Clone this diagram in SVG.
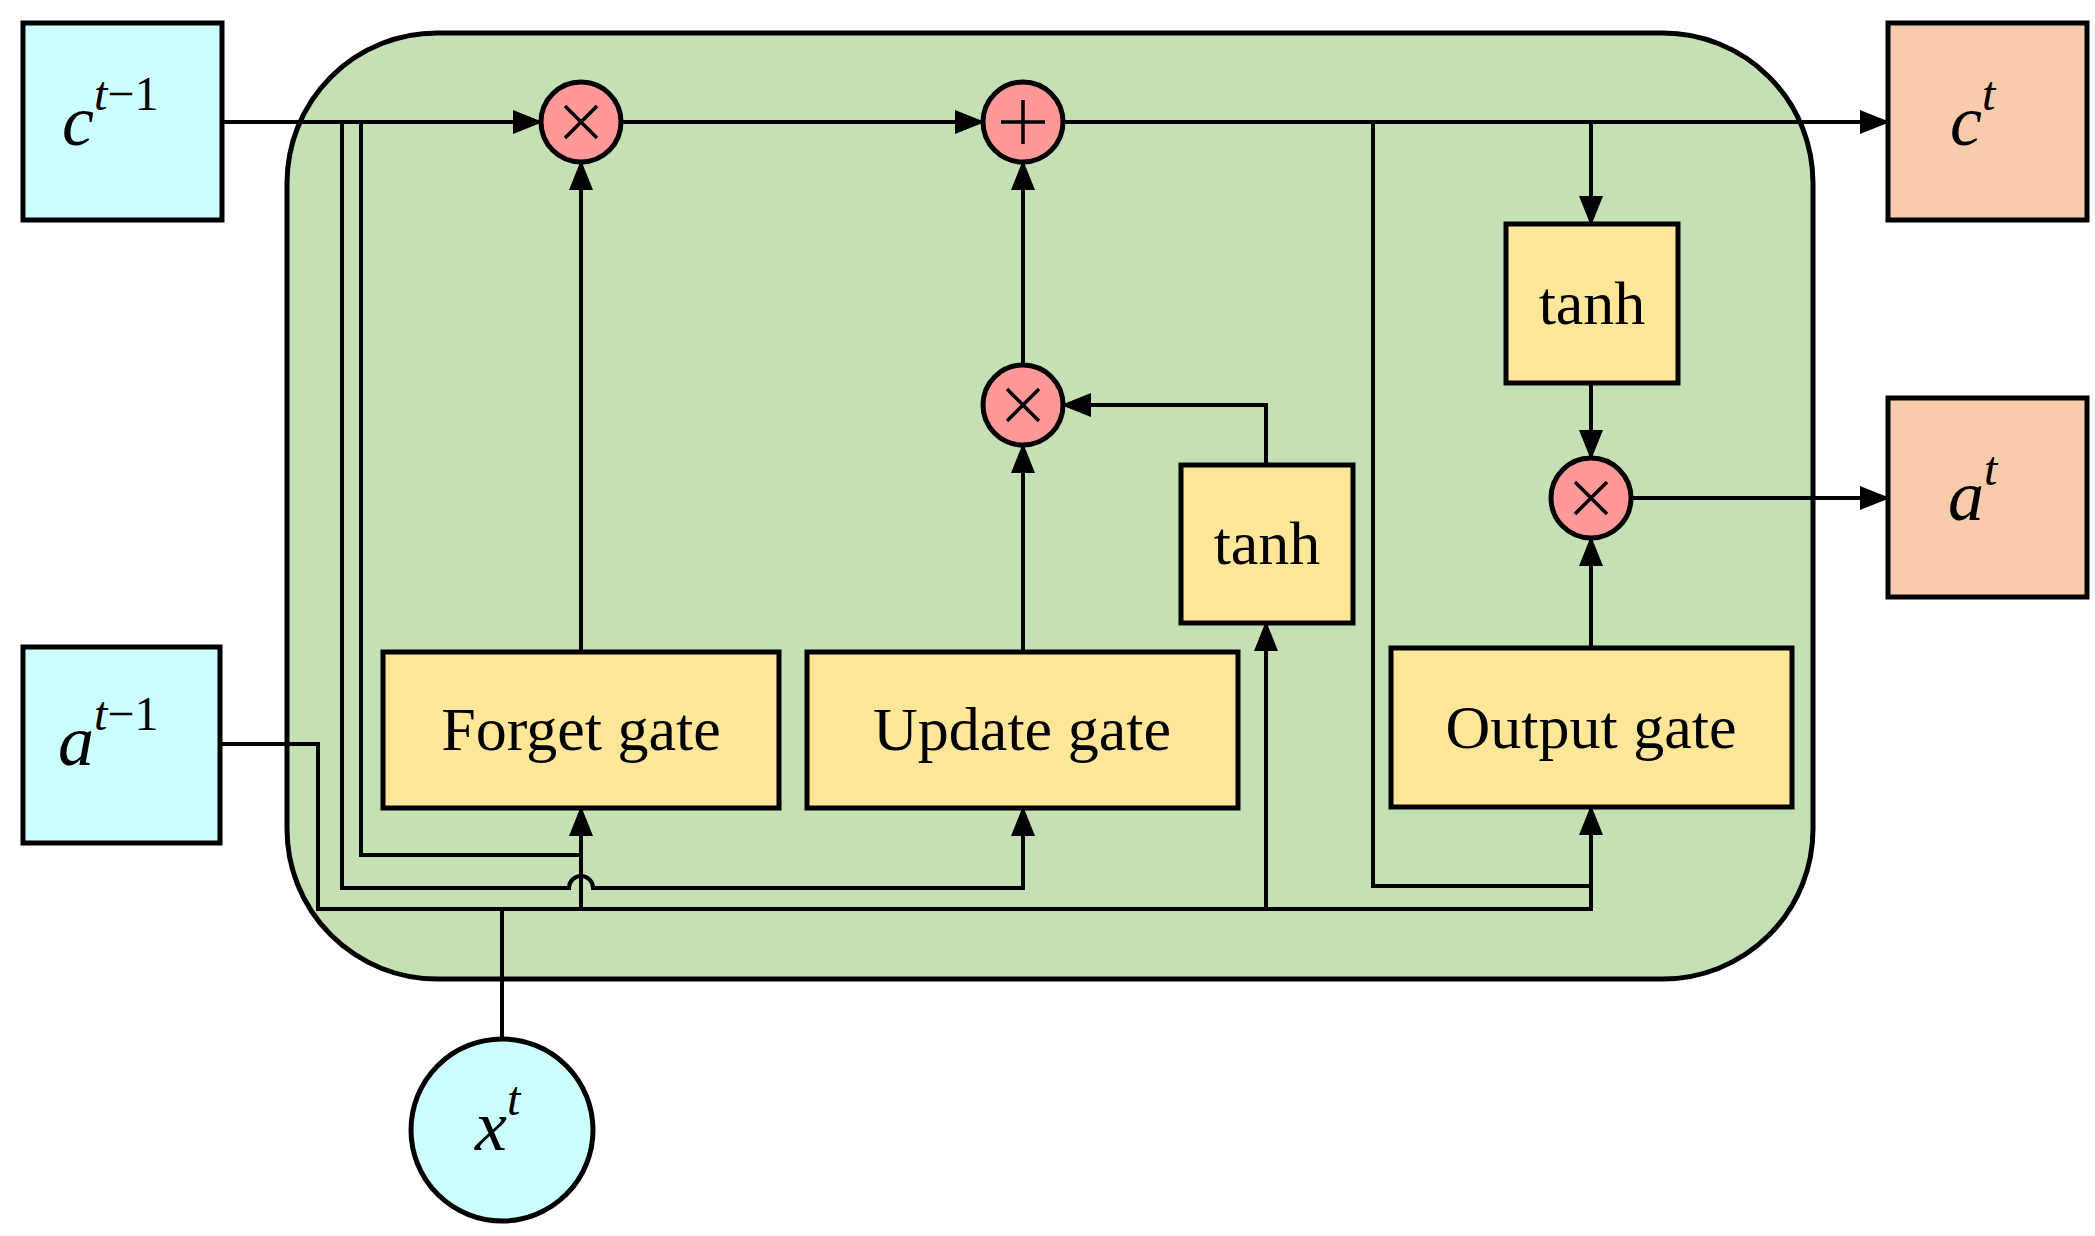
<svg xmlns="http://www.w3.org/2000/svg" width="2095" height="1236" viewBox="0 0 2095 1236">
<style>
.ln{fill:none;stroke:#000;stroke-width:4}
.in{fill:#ccffff;stroke:#000;stroke-width:5}
.out{fill:#f8cbad;stroke:#000;stroke-width:5}
.g{fill:#ffe699;stroke:#000;stroke-width:5}
.op{fill:#ff9999;stroke:#000;stroke-width:5}
.lb{font-family:"Liberation Serif",serif;font-size:62px;text-anchor:middle}
.m{font-family:"Liberation Serif",serif;font-style:italic;font-size:72px}
.s{font-size:48px}
.u{font-style:normal}
.sym{stroke:#000;stroke-width:3.5;fill:none}
</style>
<defs>
<marker id="a" markerUnits="userSpaceOnUse" markerWidth="30" markerHeight="24" refX="28" refY="12" orient="auto">
<path d="M0,0 L30,12 L0,24 Z" fill="#000"/>
</marker>
</defs>
<rect id="cell" x="287" y="33" width="1526" height="946" rx="150" fill="#c5e0b4" stroke="#000" stroke-width="5"/>
<g id="connectors">
<path class="ln" d="M222,122 H541" marker-end="url(#a)"/>
<path class="ln" d="M621,122 H983" marker-end="url(#a)"/>
<path class="ln" d="M1063,122 H1888" marker-end="url(#a)"/>
<path class="ln" d="M342,122 V888 H569 A12,12 0 0 1 593,888 H1023 V808" marker-end="url(#a)"/>
<path class="ln" d="M361,122 V855 H581"/>
<path class="ln" d="M220,744 H318 V909 H1591 V807" marker-end="url(#a)"/>
<path class="ln" d="M581,909 V808" marker-end="url(#a)"/>
<path class="ln" d="M1266,909 V623" marker-end="url(#a)"/>
<path class="ln" d="M502,909 V1039"/>
<path class="ln" d="M1373,122 V886 H1591"/>
<path class="ln" d="M581,652 V162" marker-end="url(#a)"/>
<path class="ln" d="M1023,652 V445" marker-end="url(#a)"/>
<path class="ln" d="M1023,365 V162" marker-end="url(#a)"/>
<path class="ln" d="M1266,465 V405 H1063" marker-end="url(#a)"/>
<path class="ln" d="M1591,122 V224" marker-end="url(#a)"/>
<path class="ln" d="M1591,383 V458" marker-end="url(#a)"/>
<path class="ln" d="M1591,648 V538" marker-end="url(#a)"/>
<path class="ln" d="M1631,498 H1888" marker-end="url(#a)"/>
</g>
<g id="c_prev"><rect class="in" x="23" y="23" width="199" height="197"/><text class="m" x="62" y="145">c<tspan class="s" dy="-35">t<tspan class="u">−1</tspan></tspan></text></g>
<g id="a_prev"><rect class="in" x="23" y="647" width="197" height="196"/><text class="m" x="58" y="765">a<tspan class="s" dy="-35">t<tspan class="u">−1</tspan></tspan></text></g>
<g id="x_t"><circle class="in" cx="502" cy="1130" r="91"/><text class="m" x="475" y="1150">x<tspan class="s" dy="-35">t</tspan></text></g>
<g id="c_t"><rect class="out" x="1888" y="23" width="199" height="197"/><text class="m" x="1950" y="145">c<tspan class="s" dy="-35">t</tspan></text></g>
<g id="a_t"><rect class="out" x="1888" y="398" width="199" height="199"/><text class="m" x="1948" y="520">a<tspan class="s" dy="-35">t</tspan></text></g>
<g id="forget"><rect class="g" x="383" y="652" width="396" height="156"/><text class="lb" x="581" y="750">Forget gate</text></g>
<g id="update"><rect class="g" x="807" y="652" width="431" height="156"/><text class="lb" x="1022" y="750">Update gate</text></g>
<g id="output"><rect class="g" x="1391" y="648" width="401" height="159"/><text class="lb" x="1591" y="748">Output gate</text></g>
<g id="tanh1"><rect class="g" x="1181" y="465" width="172" height="158"/><text class="lb" x="1267" y="564">tanh</text></g>
<g id="tanh2"><rect class="g" x="1506" y="224" width="172" height="159"/><text class="lb" x="1592" y="324">tanh</text></g>
<g id="mul1"><circle class="op" cx="581" cy="122" r="40"/><path class="sym" d="M565,106 L597,138 M597,106 L565,138"/></g>
<g id="add"><circle class="op" cx="1023" cy="122" r="40"/><path class="sym" d="M1023,100 V144 M1001,122 H1045"/></g>
<g id="mul2"><circle class="op" cx="1023" cy="405" r="40"/><path class="sym" d="M1007,389 L1039,421 M1039,389 L1007,421"/></g>
<g id="mul3"><circle class="op" cx="1591" cy="498" r="40"/><path class="sym" d="M1575,482 L1607,514 M1607,482 L1575,514"/></g>
</svg>
